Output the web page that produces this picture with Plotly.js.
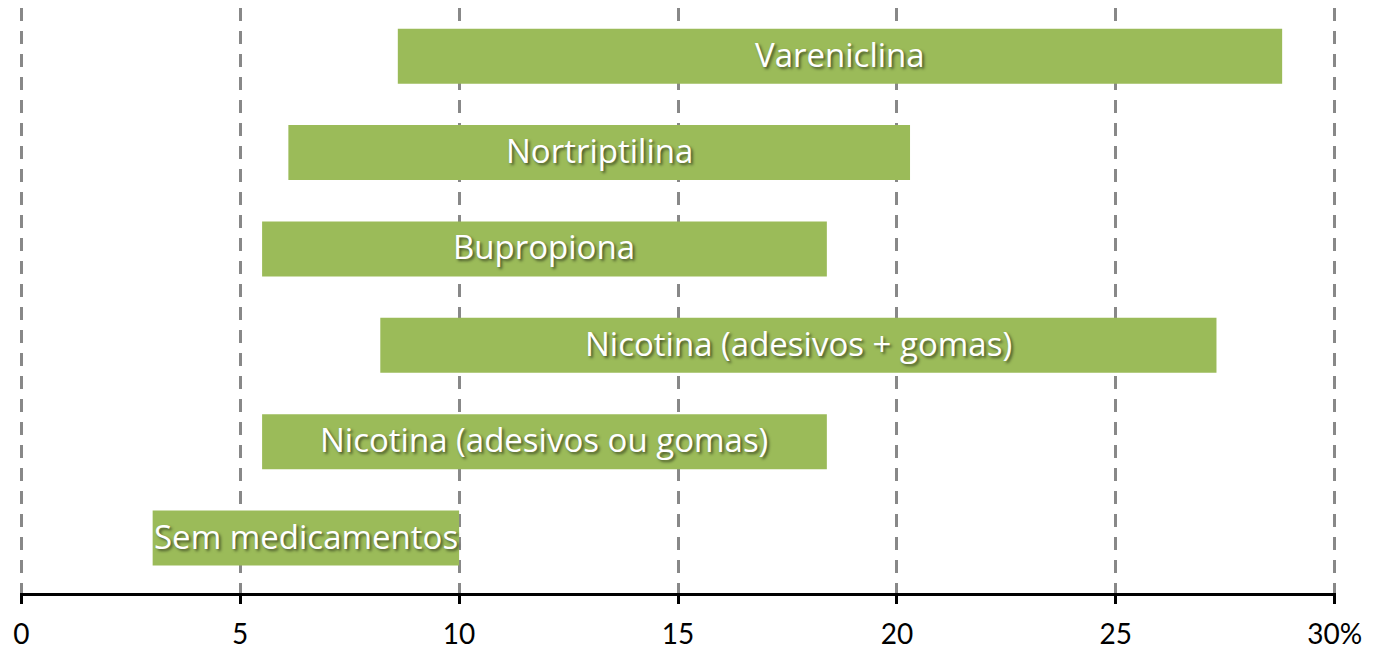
<!DOCTYPE html>
<html>
<head>
<meta charset="utf-8">
<script src="https://cdn.plot.ly/plotly-3.0.1.min.js"></script>
<style>html,body{margin:0;padding:0;background:#fff;}#chart{width:1381px;height:650px;}</style>
</head>
<body>
<div id="chart"></div>
<script>
const categories = ["Sem medicamentos", "Nicotina (adesivos ou gomas)", "Nicotina (adesivos + gomas)", "Bupropiona", "Nortriptilina", "Vareniclina"];
const startValues = [3.0, 5.5, 8.2, 5.5, 6.1, 8.6];
const endValues = [10.0, 18.4, 27.3, 18.4, 20.3, 28.8];
const tickValues = [0, 5, 10, 15, 20, 25, 30];
const tickLabels = ["0", "5", "10", "15", "20", "25", "30%"];

const widths = endValues.map((e, i) => e - startValues[i]);
const mids = endValues.map((e, i) => (e + startValues[i]) / 2);

const bars = {
  type: "bar",
  orientation: "h",
  y: categories,
  x: widths,
  base: startValues,
  width: 0.57,
  marker: {color: "#9BBB59", line: {width: 0}},
  hoverinfo: "skip"
};

const annotations = categories.map((c, i) => ({
  x: mids[i],
  y: c,
  xref: "x", yref: "y",
  text: c,
  showarrow: false,
  xanchor: "center",
  yanchor: "middle",
  yshift: 2,
  font: {family: "'Open Sans', Lato, sans-serif", size: 33, color: "#ffffff", shadow: "2px 2px 3px rgba(0,0,0,0.55)"}
}));

const layout = {
  width: 1381, height: 650,
  margin: {l: 20, r: 45, t: 8, b: 57},
  paper_bgcolor: "#ffffff", plot_bgcolor: "#ffffff",
  showlegend: false,
  font: {family: "Lato, 'Open Sans', sans-serif", color: "#000000"},
  annotations: annotations,
  xaxis: {
    range: [-0.03, 30.03],
    tickvals: tickValues,
    ticktext: tickLabels,
    tickfont: {size: 28, color: "#000000"},
    showgrid: true,
    gridcolor: "#888888",
    gridwidth: 3,
    griddash: "13px,10px",
    zeroline: false,
    showline: true,
    linecolor: "#000000",
    linewidth: 3,
    ticks: "outside",
    ticklen: 8,
    tickwidth: 3,
    tickcolor: "#000000",
    ticklabelstandoff: 6,
    fixedrange: true
  },
  yaxis: {
    type: "category",
    categoryorder: "array",
    categoryarray: categories,
    range: [-0.57, 5.5],
    showticklabels: false,
    showgrid: false,
    zeroline: false,
    showline: false,
    ticks: "",
    fixedrange: true
  }
};

Plotly.newPlot("chart", [bars], layout, {displayModeBar: false, staticPlot: true});
</script>
</body>
</html>
